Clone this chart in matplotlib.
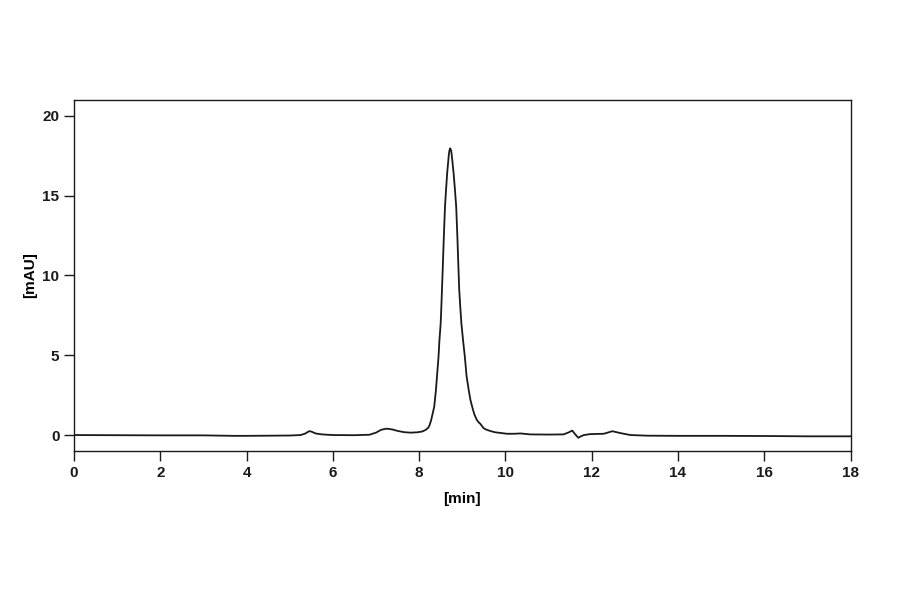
import matplotlib
matplotlib.use("Agg")
import matplotlib.pyplot as plt

plt.rcParams['font.family'] = ['Liberation Sans', 'DejaVu Sans']
plt.rcParams['font.weight'] = 'bold'

# retention time [min] and absorbance [mAU]
time_min = [0.0, 1.0, 2.0, 3.0, 3.7, 4.0, 4.5, 5.0, 5.25, 5.35, 5.45, 5.5, 5.6, 5.75,
            6.0, 6.5, 6.85, 7.0, 7.12, 7.25, 7.38, 7.5, 7.65, 7.8, 7.95, 8.07, 8.15,
            8.21, 8.24, 8.28, 8.31, 8.35, 8.39, 8.45, 8.47, 8.50, 8.515, 8.53, 8.55,
            8.57, 8.60, 8.62, 8.65, 8.67, 8.69, 8.70, 8.72, 8.74, 8.75, 8.77, 8.80,
            8.83, 8.86, 8.89, 8.91, 8.93, 8.955, 8.98, 9.02, 9.06, 9.10, 9.15, 9.19,
            9.23, 9.28, 9.34, 9.38, 9.42, 9.46, 9.50, 9.55, 9.6, 9.68, 9.77, 10.04,
            10.2, 10.35, 10.58, 11.0, 11.35, 11.47, 11.55, 11.62, 11.69, 11.75, 11.82,
            11.97, 12.28, 12.48, 12.67, 12.90, 13.3, 14.0, 15.0, 16.0, 17.0, 18.0]
signal_mau = [0.0, -0.01, -0.02, -0.02, -0.05, -0.05, -0.04, -0.03, 0.0, 0.08, 0.24,
              0.22, 0.10, 0.04, 0.0, -0.01, 0.02, 0.15, 0.33, 0.40, 0.35, 0.26, 0.18,
              0.15, 0.17, 0.22, 0.32, 0.45, 0.6, 0.94, 1.3, 1.77, 2.82, 4.91, 5.9, 7.0,
              8.0, 9.1, 10.6, 12.2, 14.3, 15.2, 16.4, 17.0, 17.6, 17.8, 17.97, 17.85,
              17.7, 17.2, 16.4, 15.4, 14.3, 12.2, 10.6, 9.1, 8.0, 7.0, 5.9, 4.91, 3.7,
              2.82, 2.2, 1.77, 1.3, 0.94, 0.8, 0.7, 0.55, 0.42, 0.35, 0.3, 0.23, 0.17,
              0.08, 0.08, 0.10, 0.04, 0.03, 0.04, 0.17, 0.28, 0.04, -0.17, -0.08, 0.0,
              0.06, 0.08, 0.24, 0.12, 0.0, -0.04, -0.05, -0.05, -0.06, -0.08, -0.08]

x_ticks = [0, 2, 4, 6, 8, 10, 12, 14, 16, 18]
y_ticks = [0, 5, 10, 15, 20]

fig = plt.figure(figsize=(9.0, 5.94), dpi=100)
ax = fig.add_axes([74 / 900, 143 / 594, (850.5 - 74) / 900, 351 / 594])

ax.plot(time_min, signal_mau, color='#1a1a1a', lw=1.3, solid_joinstyle='round')

ax.set_xlim(0, 18)
ax.set_ylim(-1.0, 21.0)
ax.set_xticks(x_ticks)
ax.set_yticks(y_ticks)

for s in ax.spines.values():
    s.set_linewidth(1.0)
    s.set_color('#1a1a1a')

ax.tick_params(axis='both', direction='out', length=7.5, width=1.0,
               colors='#1a1a1a', labelsize=11, pad=3)
for lbl in ax.get_xticklabels() + ax.get_yticklabels():
    lbl.set_fontweight('bold')

ax.set_xlabel('[min]', fontsize=11, fontweight='bold', labelpad=9)
ax.set_ylabel('[mAU]', fontsize=11, fontweight='bold', labelpad=4)

fig.savefig('out.png', dpi=100)
